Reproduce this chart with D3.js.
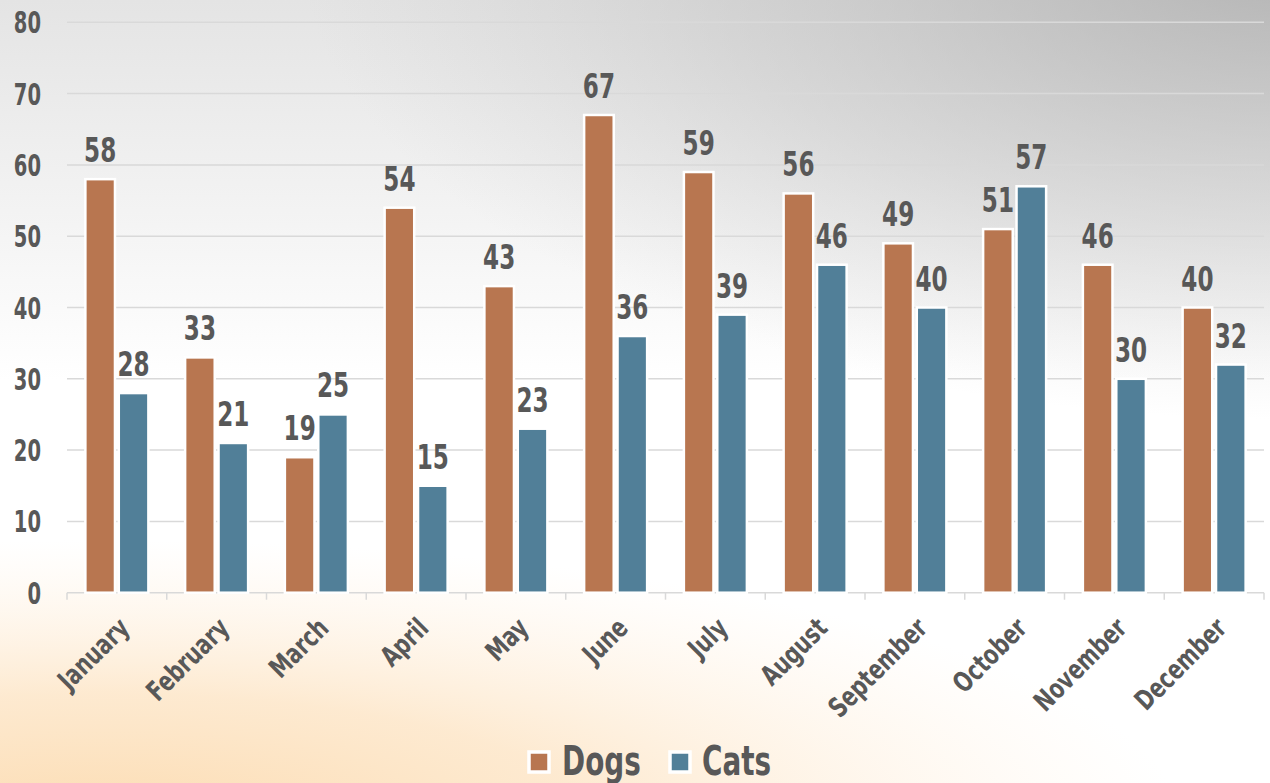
<!DOCTYPE html>
<html><head><meta charset="utf-8">
<script src="https://cdn.jsdelivr.net/npm/d3@7"></script>
<style>
html,body{margin:0;padding:0;overflow:hidden;}
text{font-family:"DejaVu Sans",sans-serif;font-weight:bold;fill:#585858;}
</style></head>
<body>
<script>
const months = ["January","February","March","April","May","June","July","August","September","October","November","December"];
const seriesNames = ["Dogs","Cats"];
const dogs = [58,33,19,54,43,67,59,56,49,51,46,40];
const cats = [28,21,25,15,23,36,39,46,40,57,30,32];
const yTicks = [0,10,20,30,40,50,60,70,80];
const colors = {Dogs:"#b87650", Cats:"#517f98"};

const W = 1270, H = 783;
const svg = d3.select("body").append("svg").attr("width", W).attr("height", H);
const defs = svg.append("defs");

// background: white base + grey from top + dark grey at top-right + peach at bottom-left
const gTop = defs.append("linearGradient").attr("id","gTop").attr("gradientUnits","userSpaceOnUse")
  .attr("x1",0).attr("y1",0).attr("x2",0).attr("y2",380);
gTop.append("stop").attr("offset",0).attr("stop-color","#e4e4e4").attr("stop-opacity",1);
gTop.append("stop").attr("offset",1).attr("stop-color","#e4e4e4").attr("stop-opacity",0);

const gTR = defs.append("radialGradient").attr("id","gTR").attr("gradientUnits","userSpaceOnUse")
  .attr("cx",1300).attr("cy",-50).attr("r",1)
  .attr("gradientTransform","translate(1300,-50) scale(1000,470) translate(-1300,50)");
gTR.append("stop").attr("offset",0).attr("stop-color","#aaaaaa").attr("stop-opacity",0.85);
gTR.append("stop").attr("offset",0.6).attr("stop-color","#b4b4b4").attr("stop-opacity",0.35);
gTR.append("stop").attr("offset",1).attr("stop-color","#c0c0c0").attr("stop-opacity",0);

const gBL = defs.append("radialGradient").attr("id","gBL").attr("gradientUnits","userSpaceOnUse")
  .attr("cx",100).attr("cy",820).attr("r",1)
  .attr("gradientTransform","translate(100,820) scale(1080,280) translate(-100,-820)");
gBL.append("stop").attr("offset",0).attr("stop-color","#fcdcb2").attr("stop-opacity",1);
gBL.append("stop").attr("offset",0.45).attr("stop-color","#fde6c8").attr("stop-opacity",0.85);
gBL.append("stop").attr("offset",1).attr("stop-color","#fff1e0").attr("stop-opacity",0);

svg.append("rect").attr("width",W).attr("height",H).attr("fill","#ffffff");
svg.append("rect").attr("width",W).attr("height",H).attr("fill","url(#gTop)");
svg.append("rect").attr("width",W).attr("height",H).attr("fill","url(#gTR)");
svg.append("rect").attr("width",W).attr("height",H).attr("fill","url(#gBL)");

const pLeft = 67, pRight = 1264, pTop = 22.3, pBottom = 592.7;
const x0 = d3.scaleBand().domain(months).range([pLeft,pRight]).paddingInner(0).paddingOuter(0);
const x1 = d3.scaleBand().domain(seriesNames).range([0,x0.bandwidth()]).paddingInner(0.114).paddingOuter(0.55);
const y = d3.scaleLinear().domain([0,80]).range([pBottom,pTop]);

// gridlines
svg.append("g").selectAll("line").data(yTicks.filter(d=>d>0)).join("line")
  .attr("x1",pLeft).attr("x2",pRight).attr("y1",d=>y(d)).attr("y2",d=>y(d))
  .attr("stroke","#d9d9d9").attr("stroke-width",1.5);

// y labels
svg.append("g").selectAll("g").data(yTicks).join("g")
  .attr("transform",d=>`translate(41,${y(d)+11})`)
  .append("text").attr("transform","scale(0.64,1)").attr("font-size",30.5)
  .attr("text-anchor","end").text(d=>d);

// x axis
const xAxis = d3.axisBottom(x0).tickSize(0).tickFormat("");
const gx = svg.append("g").attr("transform",`translate(0,${pBottom})`).call(xAxis);
gx.select(".domain").remove();
gx.append("line").attr("x1",pLeft).attr("x2",pRight).attr("stroke","#d9d9d9").attr("stroke-width",1.5);
const bounds = months.map(m=>x0(m)).concat([pRight]);
gx.selectAll("line.tk").data(bounds).join("line").attr("class","tk")
  .attr("x1",d=>d).attr("x2",d=>d).attr("y1",0).attr("y2",7)
  .attr("stroke","#d9d9d9").attr("stroke-width",1.5);

// x labels
svg.append("g").selectAll("g").data(months).join("g")
  .attr("transform",d=>`translate(${x0(d)+x0.bandwidth()/2+14},${pBottom+37}) rotate(-45)`)
  .append("text").attr("transform","scale(0.74,1)").attr("font-size",27.5)
  .attr("text-anchor","end").text(d=>d);

// bars
const data = months.map((m,i)=>({month:m, values:[{key:"Dogs",v:dogs[i]},{key:"Cats",v:cats[i]}]}));
const groups = svg.append("g").selectAll("g").data(data).join("g")
  .attr("transform",d=>`translate(${x0(d.month)},0)`);
groups.selectAll("rect").data(d=>d.values).join("rect")
  .attr("x",d=>x1(d.key)).attr("width",x1.bandwidth())
  .attr("y",d=>y(d.v)).attr("height",d=>pBottom-y(d.v))
  .attr("fill",d=>colors[d.key]).attr("stroke","#ffffff").attr("stroke-width",2.5);
groups.selectAll("g.lbl").data(d=>d.values).join("g").attr("class","lbl")
  .attr("transform",d=>`translate(${x1(d.key)+x1.bandwidth()/2},${y(d.v)-17})`)
  .append("text").attr("transform","scale(0.67,1)").attr("font-size",34.5)
  .attr("text-anchor","middle").text(d=>d.v);

// legend
const leg = svg.append("g");
const legItems = [{key:"Dogs",sx:529,tx:562},{key:"Cats",sx:670,tx:702}];
leg.selectAll("rect").data(legItems).join("rect")
  .attr("x",d=>d.sx).attr("y",752).attr("width",20).attr("height",20)
  .attr("fill",d=>colors[d.key]).attr("stroke","#ffffff").attr("stroke-width",3.5);
leg.selectAll("g").data(legItems).join("g")
  .attr("transform",d=>`translate(${d.tx},775)`)
  .append("text").attr("transform","scale(0.68,1)").attr("font-size",41).text(d=>d.key);
</script>
</body></html>
